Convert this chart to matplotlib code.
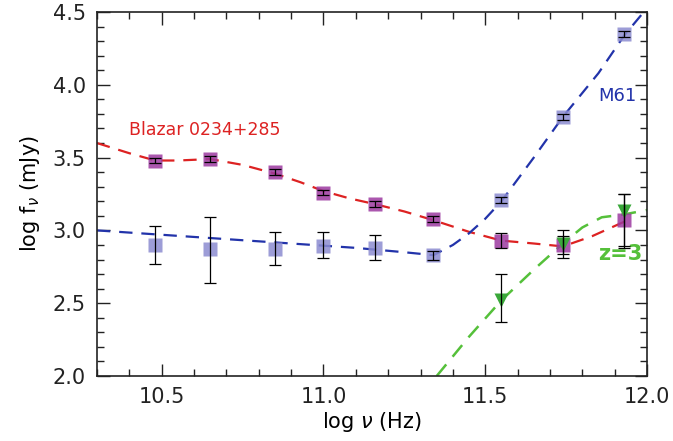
import matplotlib
matplotlib.use('Agg')
import matplotlib.pyplot as plt
from matplotlib.ticker import MultipleLocator

# measured points
nu = [10.48, 10.65, 10.85, 11.0, 11.16, 11.34, 11.55, 11.74, 11.93]
blazar = [3.48, 3.49, 3.40, 3.26, 3.18, 3.08, 2.93, 2.90, 3.07]
blazar_err = [0.02, 0.02, 0.02, 0.02, 0.02, 0.02, 0.05, 0.06, 0.18]
m61 = [2.90, 2.87, 2.87, 2.89, 2.88, 2.83, 3.21, 3.78, 4.35]
m61_lo = [0.13, 0.23, 0.11, 0.08, 0.08, 0.03, 0.02, 0.02, 0.02]
m61_hi = [0.13, 0.22, 0.12, 0.10, 0.09, 0.03, 0.02, 0.02, 0.02]
z3_nu = [11.55, 11.74, 11.93]
z3 = [2.52, 2.91, 3.13]
z3_lo = [0.15, 0.10, 0.25]
z3_hi = [0.18, 0.09, 0.12]

# model curves
blz_x = [10.3, 10.4, 10.48, 10.55, 10.65, 10.75, 10.85, 10.93, 11.0, 11.08, 11.16,
         11.25, 11.34, 11.45, 11.55, 11.65, 11.74, 11.83, 11.93]
blz_y = [3.60, 3.53, 3.48, 3.48, 3.49, 3.45, 3.39, 3.33, 3.27, 3.22, 3.18,
         3.13, 3.07, 2.99, 2.93, 2.91, 2.89, 2.96, 3.06]
m61_x = [10.3, 10.5, 10.7, 10.9, 11.1, 11.25, 11.34, 11.4, 11.45, 11.5, 11.55,
         11.65, 11.74, 11.85, 11.93, 11.99]
m61_y = [3.00, 2.97, 2.94, 2.91, 2.88, 2.85, 2.83, 2.90, 2.98, 3.08, 3.20,
         3.50, 3.78, 4.08, 4.34, 4.50]
z3_x = [11.35, 11.45, 11.55, 11.65, 11.74, 11.80, 11.86, 11.93, 12.0]
z3_y = [2.00, 2.27, 2.52, 2.73, 2.91, 3.02, 3.09, 3.11, 3.14]

red = '#dd2222'
blue = '#2233aa'
green = '#55c03a'

fig = plt.figure(figsize=(6.73, 4.41), dpi=100)
ax = fig.add_axes([97/673, 1 - 376/441, 550/673, 364/441])

dash = (0, (6, 4))
ax.plot(blz_x, blz_y, color=red, lw=1.6, ls=dash, zorder=2)
ax.plot(m61_x, m61_y, color=blue, lw=1.6, ls=dash, zorder=2)
ax.plot(z3_x, z3_y, color=green, lw=1.8, ls=dash, zorder=2)

ax.plot(nu, blazar, 's', ms=10, color='#9c3aa0', alpha=0.85, mec='none', zorder=3)
ax.plot(nu, m61, 's', ms=10, color='#8c8cd0', alpha=0.85, mec='none', zorder=3)
ax.plot(z3_nu, z3, 'v', ms=10, color='#3aa83a', mec='none', zorder=3)

ebkw = dict(fmt='none', ecolor='black', elinewidth=0.9, capsize=4, capthick=0.9, zorder=4)
ax.errorbar(nu, blazar, yerr=blazar_err, **ebkw)
ax.errorbar(nu, m61, yerr=[m61_lo, m61_hi], **ebkw)
ax.errorbar(z3_nu, z3, yerr=[z3_lo, z3_hi], **ebkw)

ax.text(10.40, 3.69, 'Blazar 0234+285', color=red, fontsize=12.5, va='center')
ax.text(11.85, 3.92, 'M61', color=blue, fontsize=13, va='center')
ax.text(11.85, 2.84, 'z=3', color=green, fontsize=15, va='center', fontweight='semibold')

ax.set_xlim(10.3, 12.0)
ax.set_ylim(2.0, 4.5)
ax.xaxis.set_major_locator(MultipleLocator(0.5))
ax.xaxis.set_minor_locator(MultipleLocator(0.1))
ax.yaxis.set_major_locator(MultipleLocator(0.5))
ax.yaxis.set_minor_locator(MultipleLocator(0.1))
ax.xaxis.set_major_formatter(matplotlib.ticker.FormatStrFormatter('%.1f'))
ax.yaxis.set_major_formatter(matplotlib.ticker.FormatStrFormatter('%.1f'))
ax.tick_params(which='both', direction='in', top=True, right=True, labelsize=15, width=1, colors='#222222')
ax.tick_params(which='major', length=9, pad=8)
ax.tick_params(which='minor', length=5)
for s in ax.spines.values():
    s.set_linewidth(1.2)
    s.set_color('#222222')

ax.set_xlabel(r'log $\nu$ (Hz)', fontsize=15, labelpad=2)
ax.set_ylabel(r'log f$_\nu$ (mJy)', fontsize=15, labelpad=8)

fig.savefig('out.png', dpi=100)
